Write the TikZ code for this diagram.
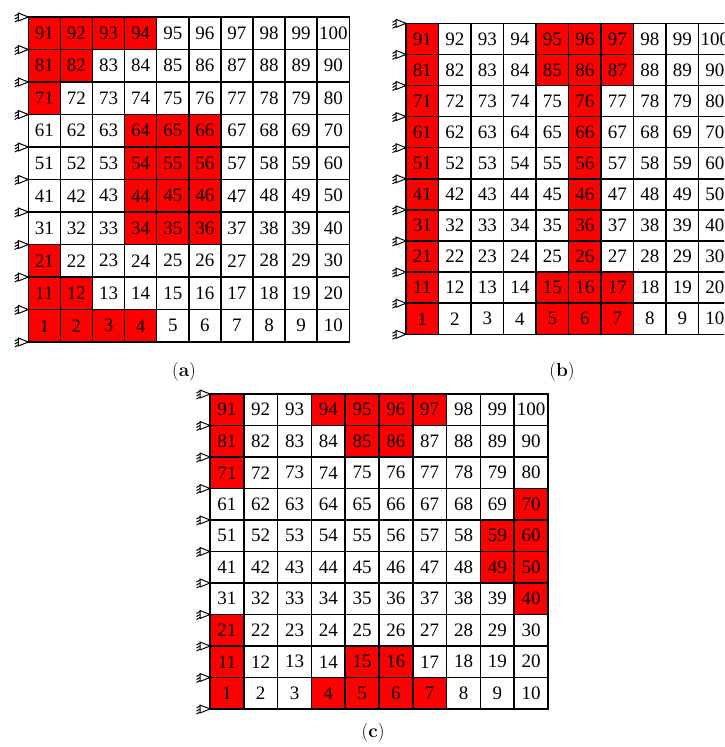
\documentclass[tikz,border=0pt]{standalone}
\usepackage{fontspec}
\newfontfamily\numfont{Liberation Serif}
\tikzset{
  cell/.style={draw=black, line width=1.5pt, inner sep=0pt, outer sep=0pt,
    font=\numfont\fontsize{19}{22}\selectfont},
  support/.style={draw=black, line width=1pt, fill=white},
  hatch/.style={draw=black, line width=1pt},
  sublabel/.style={font=\fontsize{19}{22}\selectfont, inner sep=0pt}
}
\makeatletter
\newcommand\drawgrid[6]{%
  \foreach \r in {0,...,9}{%
    \foreach \c in {0,...,9}{%
      \pgfmathtruncatemacro\n{(9-\r)*10+\c+1}%
      \edef\tmp{\noexpand\in@{,\n,}{,#6,}}\tmp
      \ifin@ \def\fc{red}\else\def\fc{white}\fi
      \node[cell, fill=\fc, minimum width=#4pt, minimum height=#5pt]
        (#1-\n) at ({#2+(\c+0.5)*#4},{#3+(\r+0.5)*#5}) {\n};
    }%
  }%
  \foreach \r in {0,...,10}{%
    \coordinate (#1-s\r) at (#2,{#3+\r*#5});
    \draw[support, shift={(#1-s\r)}] (0,0) -- (-10,-4) -- (-10,4) -- cycle;
    \draw[hatch, shift={(#1-s\r)}] (-10,-3) -- (-13.5,-1) (-10,0) -- (-13.5,2) (-10,3) -- (-13.5,5);
  }%
}
\makeatother
\begin{document}
\begin{tikzpicture}[x=1pt,y=-1pt]
\clip (0,0) rectangle (724,747);
\fill[white] (0,0) rectangle (724,747);
\drawgrid{a}{28.3}{17}{32.1}{32.5}{1,2,3,4,11,12,21,34,35,36,44,45,46,54,55,56,64,65,66,71,81,82,91,92,93,94}
\drawgrid{b}{406}{23.3}{32.5}{31.1}{1,5,6,7,11,15,16,17,21,26,31,36,41,46,51,56,61,66,71,76,81,85,86,87,91,95,96,97}
\drawgrid{c}{210}{394}{33.8}{31.5}{1,4,5,6,7,11,15,16,21,40,49,50,59,60,70,71,81,85,86,91,94,95,96,97}
\node[sublabel] (la) at (184,372) {(\textbf{a})};
\node[sublabel] (lb) at (562,372) {(\textbf{b})};
\node[sublabel] (lc) at (373,733) {(\textbf{c})};
\end{tikzpicture}
\end{document}
